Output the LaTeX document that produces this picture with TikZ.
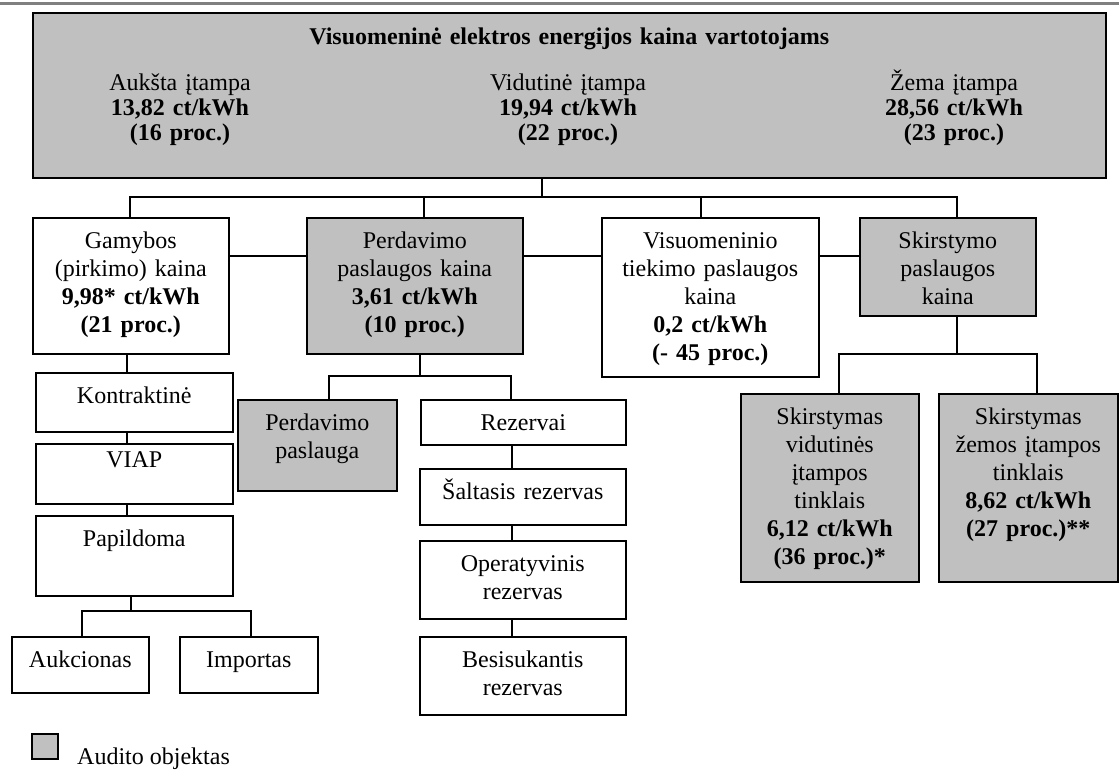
\documentclass[tikz,border=0pt]{standalone}
\usepackage{fontspec}
\setmainfont{Liberation Serif}
\usepackage{xcolor}
\usepackage{tikz}
\definecolor{auditgray}{HTML}{C0C0C0}

\begin{document}
\begin{tikzpicture}[x=1pt, y=-1pt, every node/.style={font=\fontsize{24}{28}\selectfont},
  box/.style={draw, line width=1.6pt, anchor=north west, align=center, inner xsep=0pt, inner ysep=5pt, text height=26pt},
  audit/.style={box, fill=auditgray},
  col/.style={anchor=north, align=center, text width=260pt, inner sep=0pt, text height=17pt, font=\fontsize{24}{25}\selectfont},
  link/.style={line width=1.4pt}]
  \useasboundingbox (0,0) rectangle (1119,769);
  \draw[line width=3pt, gray] (0,3) -- (1119,3);

  % top level
  \node[audit, text width=1073pt, text height=27pt, text depth=128pt, font=\fontsize{24}{28}\selectfont\bfseries] (top) at (32,12) {Visuomeninė elektros energijos kaina vartotojams};
  \node[col] (high) at (180,73) {Aukšta įtampa\\\textbf{13,82 ct/kWh}\\\textbf{(16 proc.)}};
  \node[col] (mid) at (568,73) {Vidutinė įtampa\\\textbf{19,94 ct/kWh}\\\textbf{(22 proc.)}};
  \node[col] (low) at (954,73) {Žema įtampa\\\textbf{28,56 ct/kWh}\\\textbf{(23 proc.)}};

  % price parts
  \node[box, text width=196pt, text depth=100pt] (gam) at (32,217) {Gamybos\\(pirkimo) kaina\\\textbf{9,98* ct/kWh}\\\textbf{(21 proc.)}};
  \node[audit, text width=216pt, text depth=100pt] (perk) at (306,217) {Perdavimo\\paslaugos kaina\\\textbf{3,61 ct/kWh}\\\textbf{(10 proc.)}};
  \node[box, text width=217pt, text depth=123pt] (vis) at (601,217) {Visuomeninio\\tiekimo paslaugos\\kaina\\\textbf{0,2 ct/kWh}\\\textbf{(- 45 proc.)}};
  \node[audit, text width=176pt, text depth=62pt] (skir) at (859,217) {Skirstymo\\paslaugos\\kaina};

  % generation
  \node[box, text width=197pt, text depth=23pt] (kon) at (35,372) {Kontraktinė};
  \node[box, text width=197pt, text height=19pt, text depth=31pt] (viap) at (35,443) {VIAP};
  \node[box, text width=197pt, text depth=44pt] (pap) at (35,515) {Papildoma};
  \node[box, text width=137pt, text depth=20pt] (auk) at (11,636) {Aukcionas};
  \node[box, text width=138pt, text depth=20pt] (imp) at (179,636) {Importas};

  % transmission
  \node[audit, text width=159pt, text depth=55pt] (pas) at (237,399) {Perdavimo\\paslauga};
  \node[box, text width=205pt, text depth=9pt] (rez) at (420,399) {Rezervai};
  \node[box, text width=206pt, text depth=20pt] (sal) at (419,468) {Šaltasis rezervas};
  \node[box, text width=206pt, text depth=42pt] (ope) at (419,540) {Operatyvinis\\rezervas};
  \node[box, text width=206pt, text depth=42pt] (bes) at (419,636) {Besisukantis\\rezervas};

  % distribution
  \node[audit, text width=178pt, text depth=152pt] (skv) at (740,393) {Skirstymas\\vidutinės\\įtampos\\tinklais\\\textbf{6,12 ct/kWh}\\\textbf{(36 proc.)*}};
  \node[audit, text width=179pt, text depth=152pt] (skz) at (938,393) {Skirstymas\\žemos įtampos\\tinklais\\\textbf{8,62 ct/kWh}\\\textbf{(27 proc.)**}};

  % legend
  \node[draw, fill=auditgray, line width=1.6pt, anchor=north west, minimum width=26pt, minimum height=25pt, inner sep=0pt] (key) at (31,733) {};
  \node[anchor=base west, inner sep=0pt] (keytext) at (77,764) {Audito objektas};

  % connectors
  \coordinate (hub) at (542,197);
  \coordinate (b1) at (130,197);
  \coordinate (b2) at (424,197);
  \coordinate (b3) at (701,197);
  \coordinate (b4) at (957,197);
  \coordinate (side) at (0,256);
  \draw[link] (top.south -| hub) -- (hub);
  \draw[link] (b1 |- gam.north) -- (b1) -- (b4) -- (b4 |- skir.north);
  \draw[link] (b2) -- (b2 |- perk.north);
  \draw[link] (b3) -- (b3 |- vis.north);
  \draw[link] (gam.east |- side) -- (perk.west |- side);
  \draw[link] (perk.east |- side) -- (vis.west |- side);
  \draw[link] (vis.east |- side) -- (skir.west |- side);

  \coordinate (gx) at (127,0);
  \coordinate (g1) at (82,611);
  \coordinate (g2) at (251,611);
  \draw[link] (gx |- gam.south) -- (gx |- kon.north);
  \draw[link] (gx |- kon.south) -- (gx |- viap.north);
  \draw[link] (gx |- viap.south) -- (gx |- pap.north);
  \draw[link] ([xshift=4pt]gx |- pap.south) -- ([xshift=4pt]gx |- g1);
  \draw[link] (g1 |- auk.north) -- (g1) -- (g2) -- (g2 |- imp.north);

  \coordinate (p0) at (420,376);
  \coordinate (p1) at (329,376);
  \coordinate (p2) at (511,376);
  \coordinate (rx) at (512,0);
  \draw[link] (p0 |- perk.south) -- (p0);
  \draw[link] (p1 |- pas.north) -- (p1) -- (p2) -- (p2 |- rez.north);
  \draw[link] (rx |- rez.south) -- (rx |- sal.north);
  \draw[link] (rx |- sal.south) -- (rx |- ope.north);
  \draw[link] (rx |- ope.south) -- (rx |- bes.north);

  \coordinate (s0) at (957,354);
  \coordinate (s1) at (839,354);
  \coordinate (s2) at (1037,354);
  \draw[link] (s0 |- skir.south) -- (s0);
  \draw[link] (s1 |- skv.north) -- (s1) -- (s2) -- (s2 |- skz.north);
\end{tikzpicture}
\end{document}
